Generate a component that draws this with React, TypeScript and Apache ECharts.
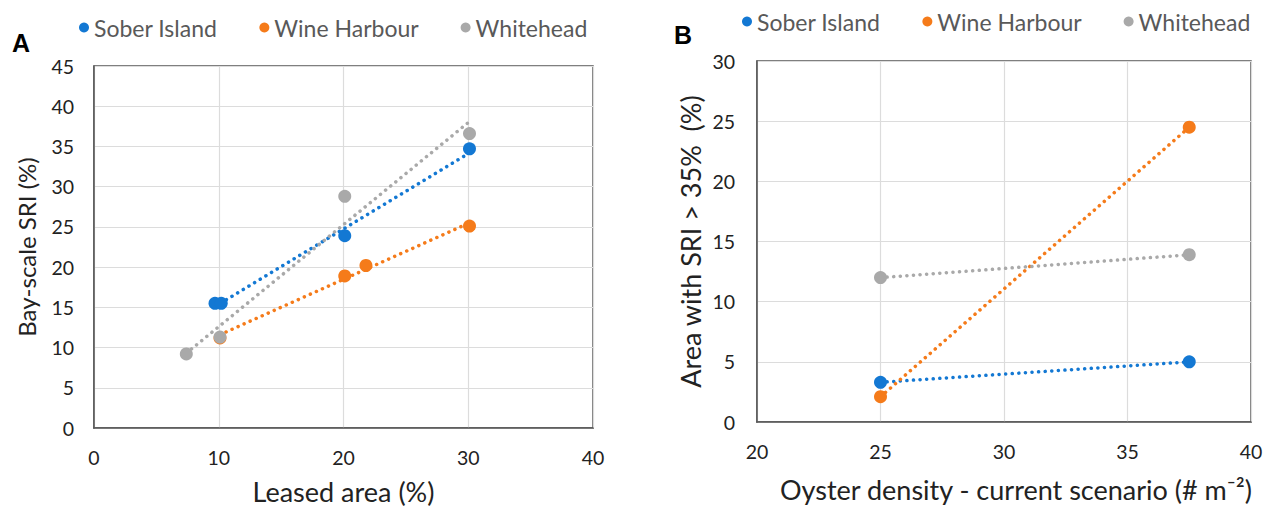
import React, { useEffect, useRef } from "react";
import * as echarts from "echarts";

const seriesNames = ["Sober Island", "Wine Harbour", "Whitehead"];
const colors = ["#1378d3", "#f57b1a", "#a9a9a9"];

// Panel A: leased area (%) vs bay-scale SRI (%)
const soberA: number[][] = [[9.7, 15.5], [10.2, 15.5], [20.1, 23.9], [30.1, 34.7]];
const wineA: number[][] = [[10.1, 11.2], [20.1, 18.9], [21.8, 20.2], [30.1, 25.1]];
const whiteA: number[][] = [[7.4, 9.2], [10.1, 11.3], [20.1, 28.8], [30.1, 36.6]];
// trendline endpoints
const soberTrendA: number[][] = [[9.7, 15.1], [30.1, 34.2]];
const wineTrendA: number[][] = [[10.1, 11.6], [30.1, 25.5]];
const whiteTrendA: number[][] = [[7.4, 9.3], [30.1, 38.1]];

// Panel B: oyster density vs area with SRI > 35%
const soberB: number[][] = [[25, 3.3], [37.5, 5.0]];
const wineB: number[][] = [[25, 2.1], [37.5, 24.5]];
const whiteB: number[][] = [[25, 12.0], [37.5, 13.9]];

const FONT = "Lato";

export default function App() {
  const ref = useRef<HTMLDivElement>(null);
  useEffect(() => {
    if (!ref.current) return;
    const chart = echarts.init(ref.current, undefined, { renderer: "svg" });
    const axisCommon = {
      axisLine: { show: true, lineStyle: { color: "#555", width: 1.5 } },
      axisTick: { show: false },
      splitLine: { show: true, lineStyle: { color: "#dcdcdc", width: 1.2 } },
      axisLabel: { color: "#222", fontSize: 19.5, fontFamily: FONT },
      nameTextStyle: { color: "#222", fontSize: 27, fontFamily: FONT },
    };
    const scatter = (name: string, data: number[][], i: number, idx: number) => ({
      type: "scatter",
      name,
      data,
      xAxisIndex: idx,
      yAxisIndex: idx,
      symbol: "circle",
      symbolSize: 13,
      itemStyle: { color: colors[i], opacity: 1 },
      z: 3,
    });
    const trend = (data: number[][], i: number, idx: number) => ({
      type: "line",
      name: "trend" + idx + i,
      data,
      xAxisIndex: idx,
      yAxisIndex: idx,
      showSymbol: false,
      symbol: "none",
      lineStyle: { color: colors[i], width: 3.5, type: [0.1, 6.5], cap: "round" },
      z: 2,
    });
    const legendCommon = {
      icon: "circle",
      itemWidth: 10,
      itemHeight: 10,
      itemGap: 42,
      textStyle: { color: "#595959", fontSize: 23, fontFamily: FONT, padding: [0, 0, 0, 0] },
      data: seriesNames,
    };
    chart.setOption({
      animation: false,
      backgroundColor: "#fff",
      legend: [
        { ...legendCommon, left: 74, top: 11 },
        { ...legendCommon, left: 737, top: 5 },
      ],
      grid: [
        { left: 94, top: 66, width: 499, height: 362, show: true, borderColor: "#555", borderWidth: 1.5 },
        { left: 757, top: 61, width: 494, height: 361, show: true, borderColor: "#555", borderWidth: 1.5 },
      ],
      xAxis: [
        {
          ...axisCommon,
          gridIndex: 0,
          type: "value",
          min: 0,
          max: 40,
          interval: 10,
          name: "Leased area (%)",
          nameLocation: "middle",
          nameGap: 50,
          axisLabel: { ...axisCommon.axisLabel, margin: 19 },
        },
        {
          ...axisCommon,
          gridIndex: 1,
          type: "value",
          min: 20,
          max: 40,
          interval: 5,
          name: "Oyster density - current scenario (# m⁻²)",
          nameLocation: "middle",
          nameGap: 54,
          nameTextStyle: { ...axisCommon.nameTextStyle, padding: [0, 0, 0, 24] },
          axisLabel: { ...axisCommon.axisLabel, margin: 19 },
        },
      ],
      yAxis: [
        {
          ...axisCommon,
          gridIndex: 0,
          type: "value",
          min: 0,
          max: 45,
          interval: 5,
          name: "Bay-scale SRI (%)",
          nameLocation: "middle",
          nameGap: 56,
          nameTextStyle: { ...axisCommon.nameTextStyle, fontSize: 24 },
          axisLabel: { ...axisCommon.axisLabel, margin: 20 },
        },
        {
          ...axisCommon,
          gridIndex: 1,
          type: "value",
          min: 0,
          max: 30,
          interval: 5,
          name: "Area with SRI > 35%  (%)",
          nameLocation: "middle",
          nameGap: 53,
          axisLabel: { ...axisCommon.axisLabel, margin: 22 },
        },
      ],
      graphic: [
        { type: "text", left: 12, top: 30, style: { text: "A", font: "bold 25px Arial", fill: "#000" } },
        { type: "text", left: 674, top: 22, style: { text: "B", font: "bold 25px Arial", fill: "#000" } },
      ],
      series: [
        trend(soberTrendA, 0, 0),
        trend(wineTrendA, 1, 0),
        trend(whiteTrendA, 2, 0),
        scatter(seriesNames[0], soberA, 0, 0),
        scatter(seriesNames[1], wineA, 1, 0),
        scatter(seriesNames[2], whiteA, 2, 0),
        trend(soberB, 0, 1),
        trend(wineB, 1, 1),
        trend(whiteB, 2, 1),
        scatter(seriesNames[0], soberB, 0, 1),
        scatter(seriesNames[1], wineB, 1, 1),
        scatter(seriesNames[2], whiteB, 2, 1),
      ],
    });
    return () => chart.dispose();
  }, []);
  return (
    <div
      ref={ref}
      style={{ position: "fixed", left: 0, top: 0, width: 1269, height: 515, background: "#fff" }}
    />
  );
}
